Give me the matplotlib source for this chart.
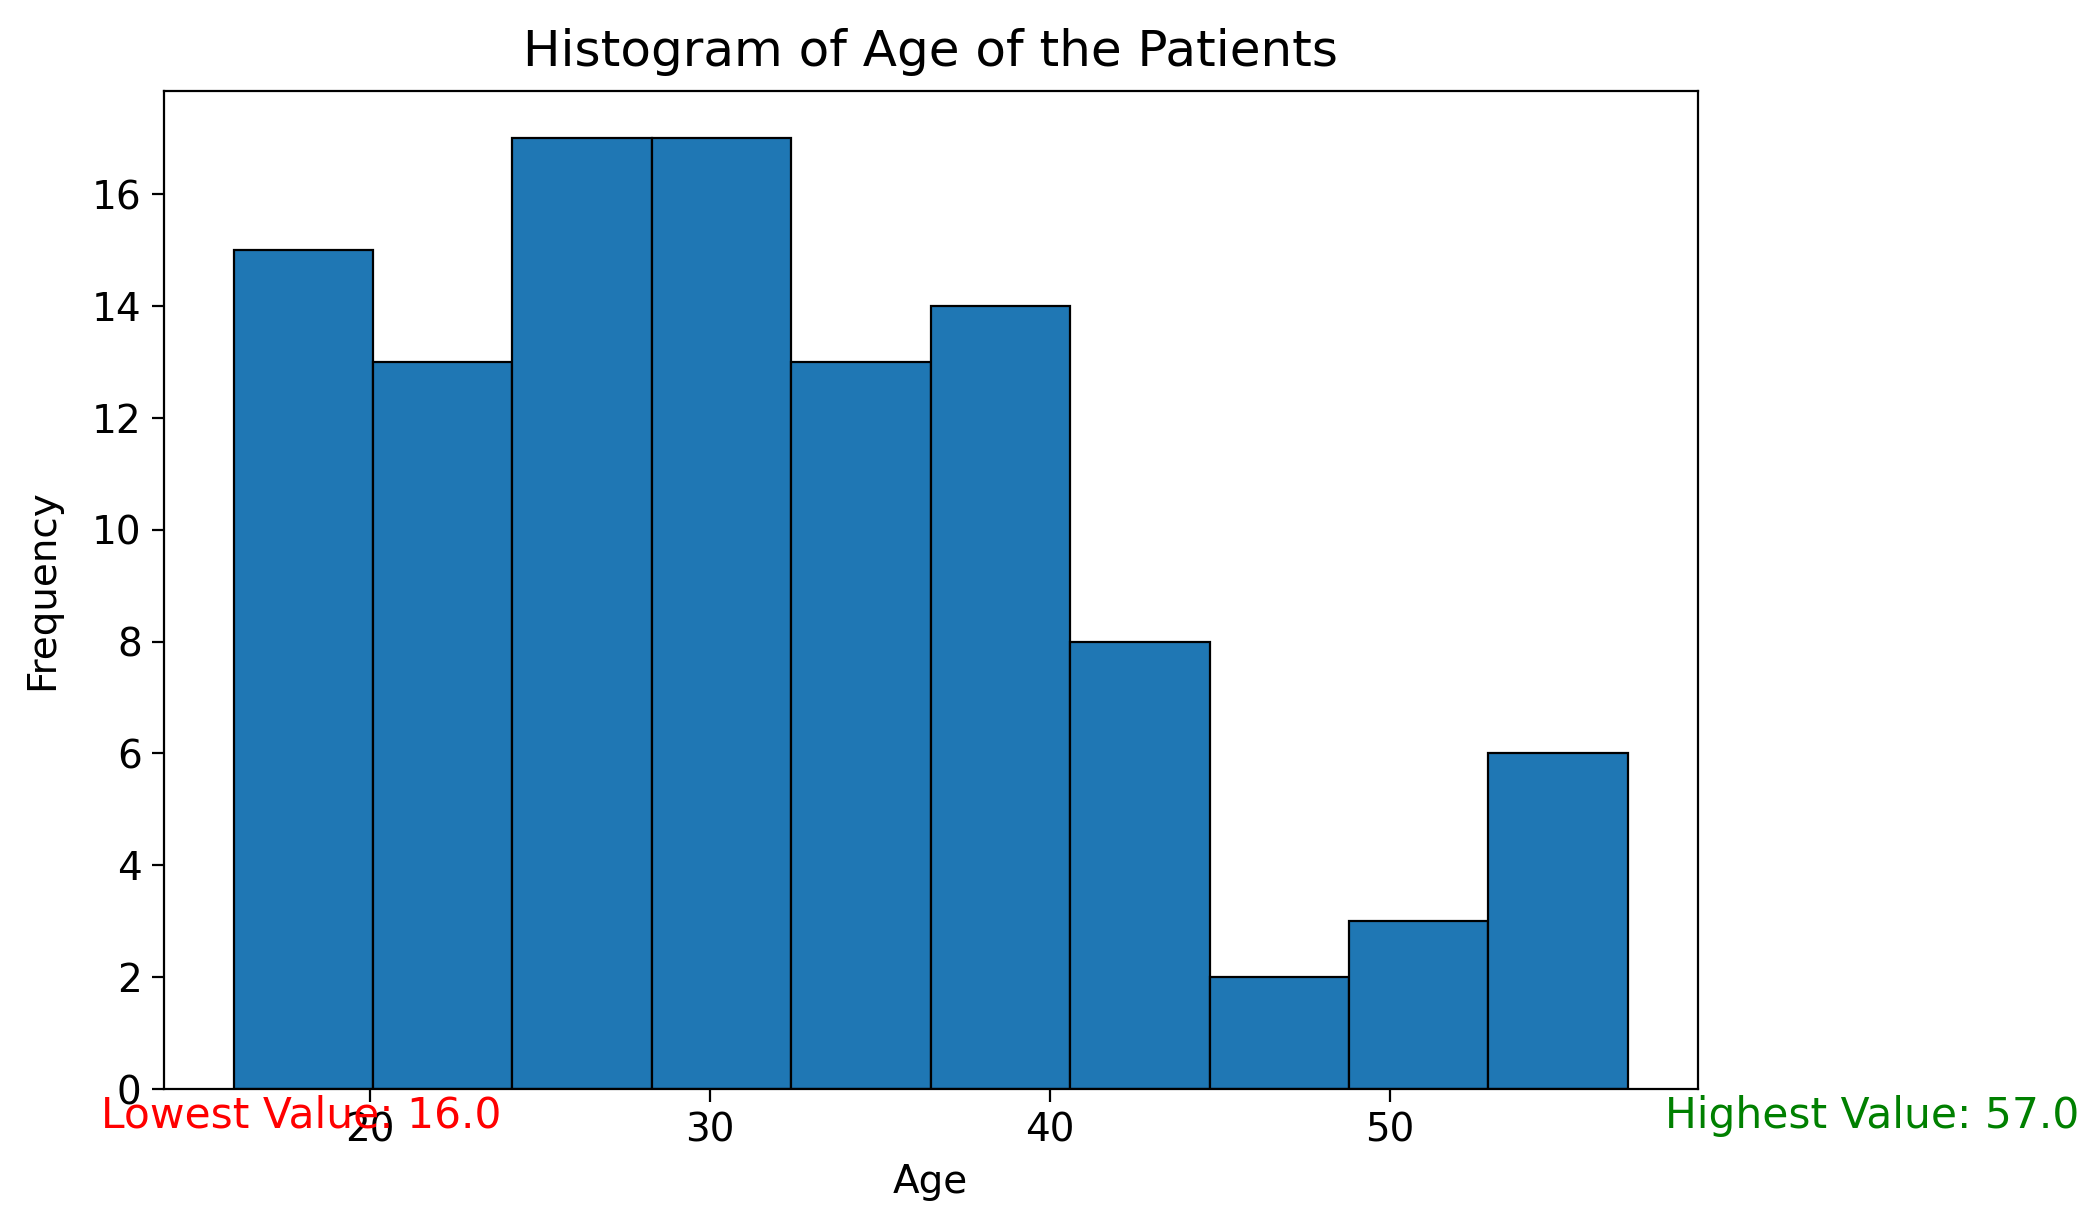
import matplotlib
matplotlib.use('Agg')
import matplotlib.pyplot as plt
import numpy as np

# histogram: 10 equal bins between the lowest and highest age
lowest_age = 16.0
highest_age = 57.0
n_bins = 10
counts = [15, 13, 17, 17, 13, 14, 8, 2, 3, 6]

edges = np.linspace(lowest_age, highest_age, n_bins + 1)
centers = (edges[:-1] + edges[1:]) / 2

fig = plt.figure(figsize=(20.88, 12.25), dpi=100)
ax = fig.add_axes([0.0785, 0.111, 0.7345, 0.815])

ax.hist(centers, bins=edges, weights=counts, color='#1f77b4', edgecolor='black', linewidth=1.6)

ax.set_title('Histogram of Age of the Patients', fontsize=36, pad=18)
ax.set_xlabel('Age', fontsize=28, labelpad=10)
ax.set_ylabel('Frequency', fontsize=28, labelpad=22)
ax.tick_params(labelsize=28, length=9, width=1.6, pad=7)
for s in ax.spines.values():
    s.set_linewidth(1.6)

ax.text(lowest_age - 3.9, -0.1, f'Lowest Value: {lowest_age}', color='red',
        fontsize=30.5, ha='left', va='top')
ax.text(highest_age + 1.1, -0.1, f'Highest Value: {highest_age}', color='green',
        fontsize=30.5, ha='left', va='top')

fig.savefig('out.png', dpi=100)
